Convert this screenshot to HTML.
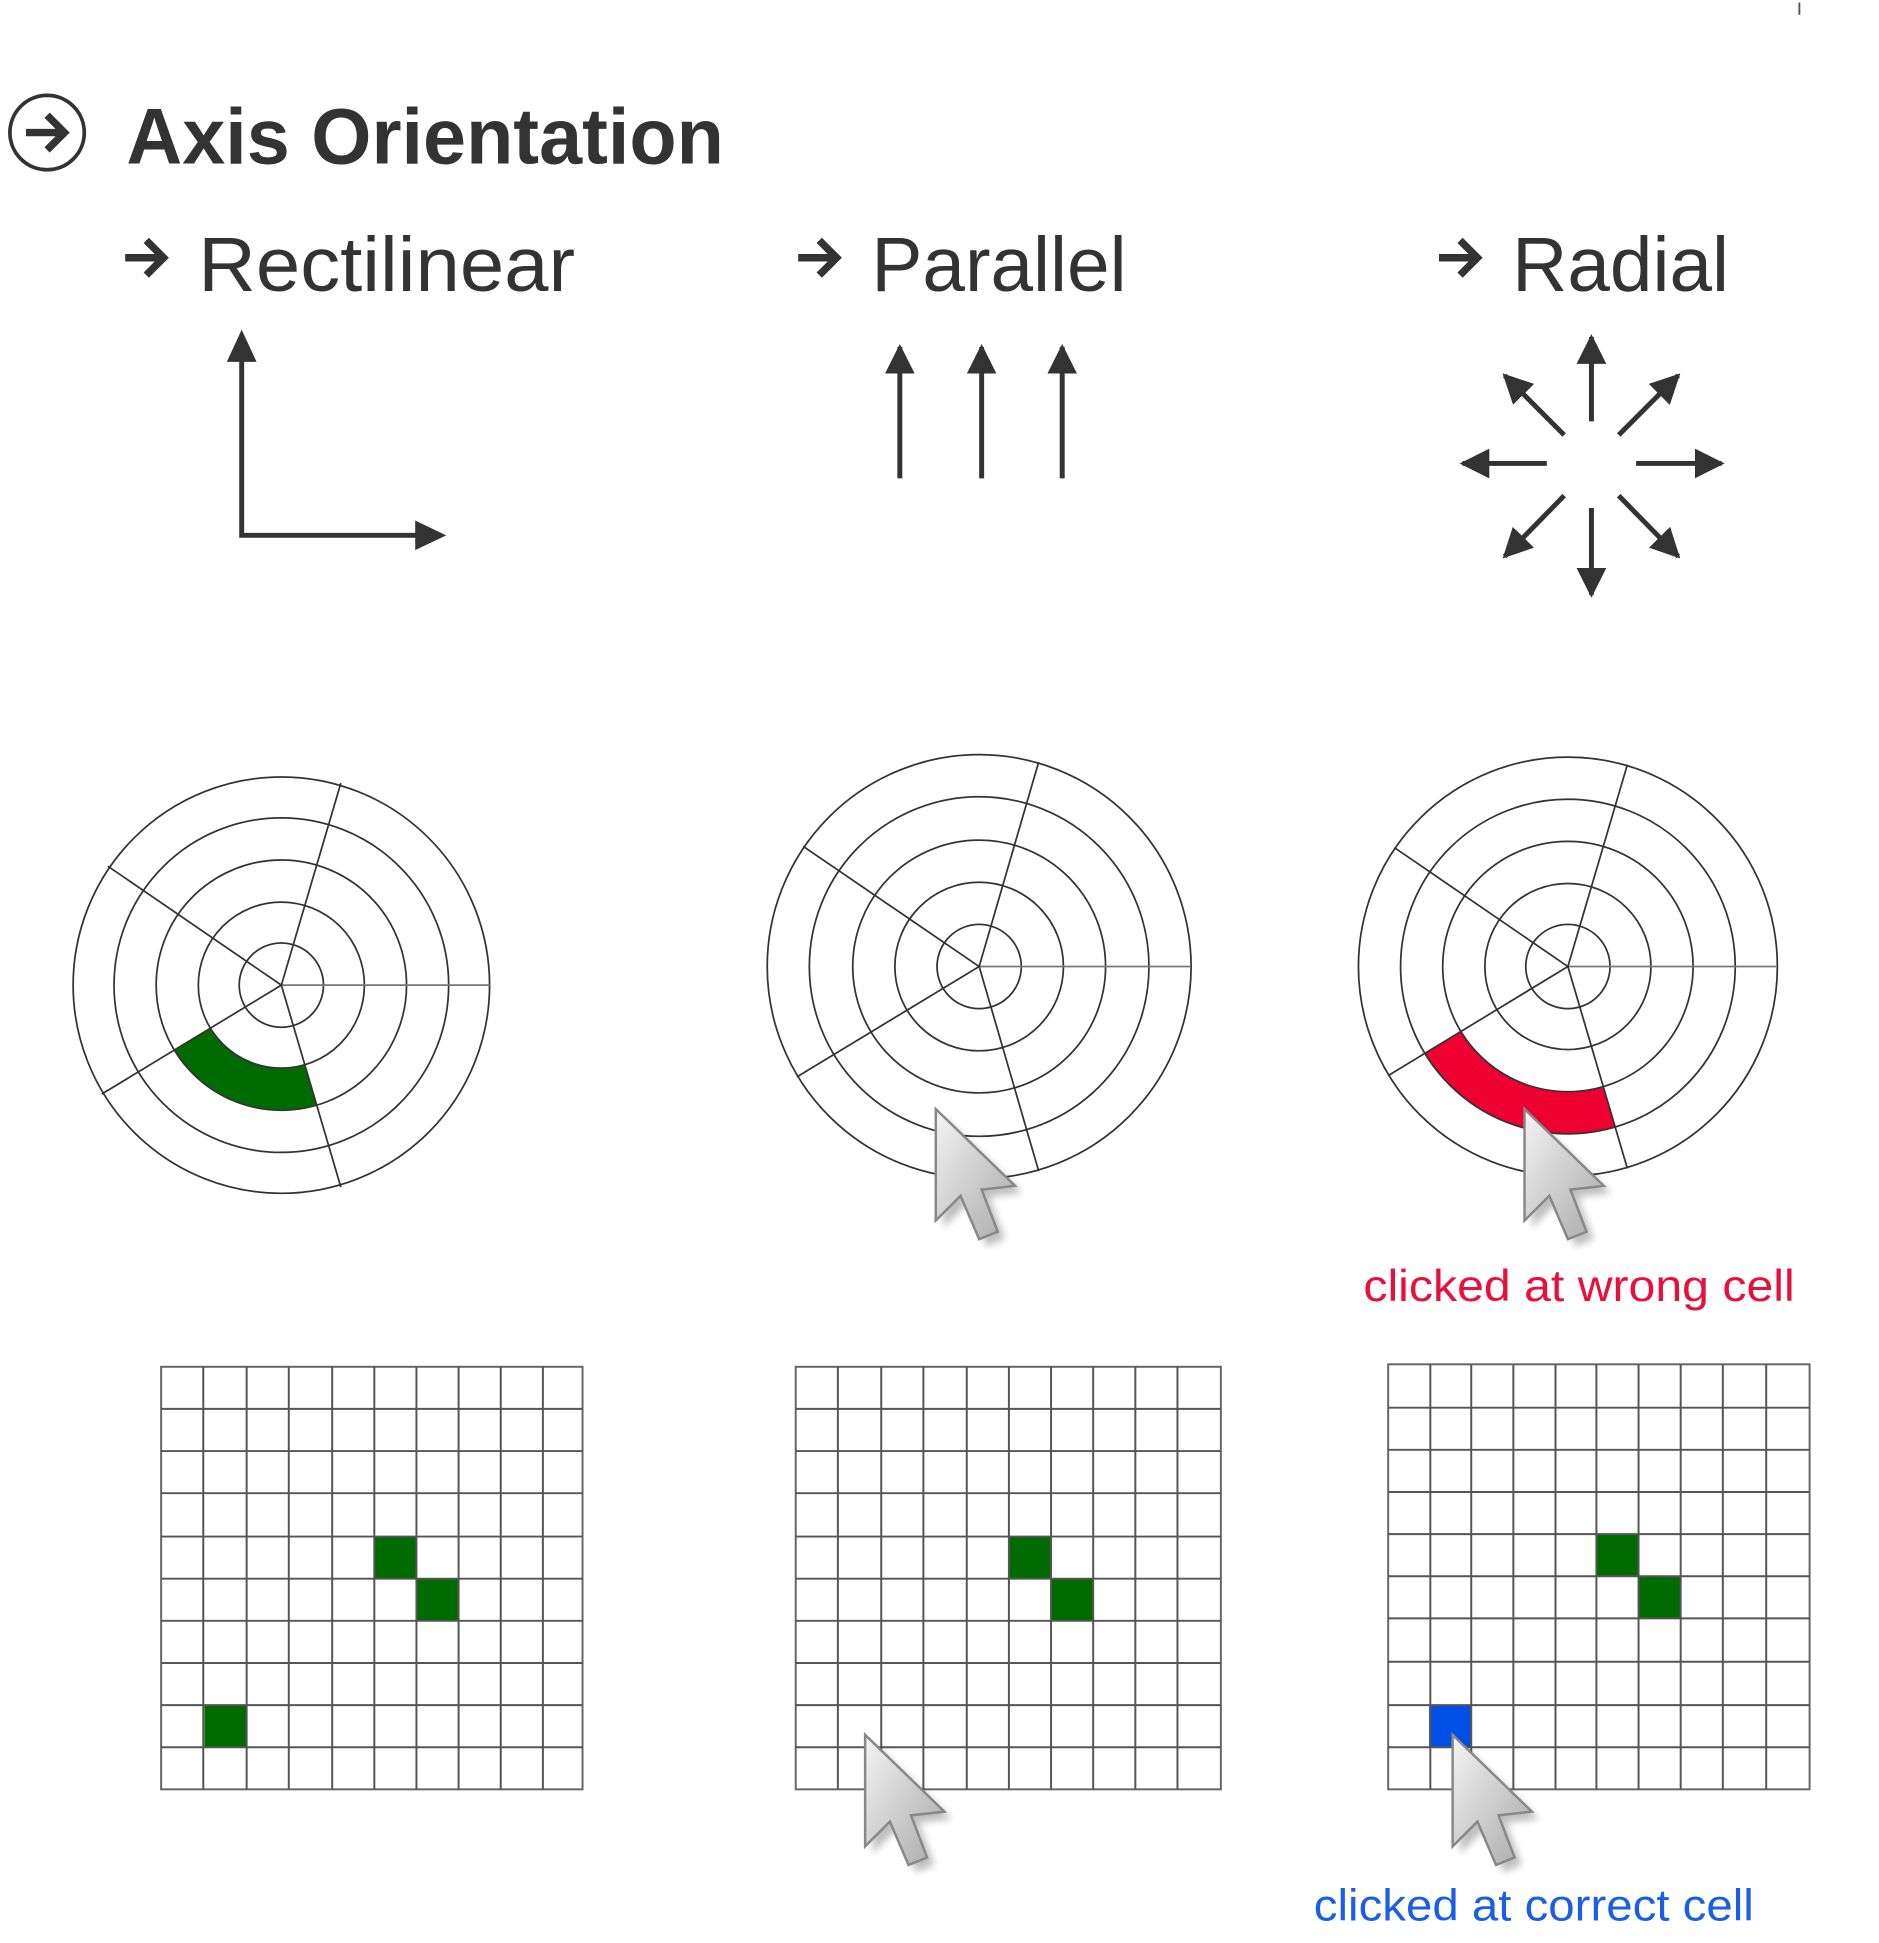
<!DOCTYPE html>
<html><head><meta charset="utf-8"><style>
html,body{margin:0;padding:0;background:#fff;}
svg{display:block;}
text{font-family:"Liberation Sans",sans-serif;}
</style></head><body>
<svg width="1879" height="1943" viewBox="0 0 1516 1568" preserveAspectRatio="none" xmlns="http://www.w3.org/2000/svg">
<defs>
<marker id="ah" viewBox="0 0 10 10" refX="9" refY="5" markerWidth="6" markerHeight="6" orient="auto"><path d="M0,0 L10,5 L0,10 z" fill="#333"/></marker>
<linearGradient id="cg" x1="0" y1="0" x2="1" y2="1"><stop offset="0" stop-color="#f4f4f4"/><stop offset="1" stop-color="#a8a8a8"/></linearGradient>
<filter id="sh"><feGaussianBlur stdDeviation="3"/></filter>
<g id="cur">
<polygon points="6,6 6,96 26,76 41,111 56,105 43,71 70,68" fill="#000" opacity="0.25" filter="url(#sh)"/>
<polygon points="0,0 0,90 20,70 35,105 50,99 37,65 64,62" fill="url(#cg)" stroke="#888" stroke-width="2"/>
</g>
<g id="sa"><path d="M0,0 H30 M17,-14 L31,0 L17,14" fill="none" stroke="#333" stroke-width="6" stroke-linejoin="miter"/></g>
</defs>
<rect x="1451" y="2" width="1.5" height="10" fill="#555"/>
<!-- title -->
<circle cx="38" cy="107" r="30" fill="none" stroke="#333" stroke-width="3"/>
<use href="#sa" x="21" y="107"/>
<text x="102" y="132" font-size="64" font-weight="bold" fill="#333" textLength="482" lengthAdjust="spacingAndGlyphs">Axis Orientation</text>
<!-- subheads -->
<use href="#sa" x="101" y="208"/>
<use href="#sa" x="644" y="208"/>
<use href="#sa" x="1161" y="208"/>
<text x="160" y="235" font-size="62" fill="#333" textLength="304" lengthAdjust="spacingAndGlyphs">Rectilinear</text>
<text x="703" y="235" font-size="62" fill="#333" textLength="206" lengthAdjust="spacingAndGlyphs">Parallel</text>
<text x="1220" y="235" font-size="62" fill="#333" textLength="175" lengthAdjust="spacingAndGlyphs">Radial</text>
<g stroke="#333" stroke-width="4" fill="none">
<polyline points="195,280 195,432 345,432"/>
</g>
<g fill="#333">
<polygon points="195,266 183,292 207,292"/>
<polygon points="360,432 335,420 335,444"/>
</g>
<g stroke="#333" stroke-width="4" marker-end="url(#ah)">
<line x1="726" y1="386" x2="726" y2="280"/>
<line x1="792" y1="386" x2="792" y2="280"/>
<line x1="857" y1="386" x2="857" y2="280"/>
<line x1="1284" y1="340" x2="1284" y2="272"/>
<line x1="1284" y1="410" x2="1284" y2="480"/>
<line x1="1248" y1="374" x2="1180" y2="374"/>
<line x1="1320" y1="374" x2="1389" y2="374"/>
<line x1="1262" y1="351" x2="1214" y2="303"/>
<line x1="1306" y1="351" x2="1354" y2="303"/>
<line x1="1262" y1="400" x2="1214" y2="449"/>
<line x1="1306" y1="400" x2="1354" y2="449"/>
</g>
<!-- polar 1 -->
<g transform="translate(227,795)" fill="none" stroke="#333" stroke-width="1.4">
<path d="M 28.7 96.8 A 101 101 0 0 1 -86.3 52.5 L -57.2 34.9 A 67 67 0 0 0 19 64.3 Z" fill="#006b00" stroke="none"/>
<circle r="168"/><circle r="135"/><circle r="101"/><circle r="67"/><circle r="34"/>
<line x1="0" y1="0" x2="168" y2="0" stroke="#777"/>
<line x1="0" y1="0" x2="48" y2="163"/>
<line x1="0" y1="0" x2="-145" y2="88"/>
<line x1="0" y1="0" x2="-140" y2="-96"/>
<line x1="0" y1="0" x2="48" y2="-163"/>
</g>
<!-- polar 2 -->
<g transform="translate(790,780)" fill="none" stroke="#333" stroke-width="1.4">
<circle r="171"/><circle r="137"/><circle r="102"/><circle r="68"/><circle r="34"/>
<line x1="0" y1="0" x2="170" y2="0" stroke="#777"/>
<line x1="0" y1="0" x2="48" y2="165"/>
<line x1="0" y1="0" x2="-147" y2="89"/>
<line x1="0" y1="0" x2="-142" y2="-97"/>
<line x1="0" y1="0" x2="48" y2="-165"/>
</g>
<!-- polar 3 -->
<g transform="translate(1265,780)" fill="none" stroke="#333" stroke-width="1.4">
<path d="M 38.5 129.4 A 135 135 0 0 1 -115.4 70 L -86.3 52.5 A 101 101 0 0 0 28.7 96.8 Z" fill="#ee0033" stroke="none"/>
<circle r="169"/><circle r="135"/><circle r="101"/><circle r="67"/><circle r="34"/>
<line x1="0" y1="0" x2="168" y2="0" stroke="#777"/>
<line x1="0" y1="0" x2="48" y2="163"/>
<line x1="0" y1="0" x2="-145" y2="88"/>
<line x1="0" y1="0" x2="-140" y2="-96"/>
<line x1="0" y1="0" x2="48" y2="-163"/>
</g>
<use href="#cur" x="755" y="895"/>
<use href="#cur" x="1230" y="895"/>
<text x="1100" y="1050" font-size="36" fill="#e8103a" textLength="348" lengthAdjust="spacingAndGlyphs">clicked at wrong cell</text>
<!-- grids -->
<g transform="translate(130,1103)">
<rect x="172" y="137" width="34" height="34" fill="#006b00"/>
<rect x="206" y="171" width="34" height="34" fill="#006b00"/>
<rect x="35" y="273" width="34" height="34" fill="#006b00"/>
<g stroke="#555" stroke-width="1.6" fill="none">
<rect x="0" y="0" width="340" height="341" stroke="#666"/>
<path d="M34,0V341M69,0V341M103,0V341M138,0V341M172,0V341M206,0V341M240,0V341M274,0V341M308,0V341"/>
<path d="M0,34H340M0,68H340M0,102H340M0,137H340M0,171H340M0,205H340M0,239H340M0,273H340M0,307H340"/>
</g>
</g>
<g transform="translate(642,1103)">
<rect x="172" y="137" width="34" height="34" fill="#006b00"/>
<rect x="206" y="171" width="34" height="34" fill="#006b00"/>
<g stroke="#555" stroke-width="1.6" fill="none">
<rect x="0" y="0" width="343" height="341" stroke="#666"/>
<path d="M34,0V341M69,0V341M103,0V341M138,0V341M172,0V341M206,0V341M240,0V341M274,0V341M308,0V341"/>
<path d="M0,34H343M0,68H343M0,102H343M0,137H343M0,171H343M0,205H343M0,239H343M0,273H343M0,307H343"/>
</g>
</g>
<g transform="translate(1120,1101)">
<rect x="168" y="137" width="34" height="34" fill="#006b00"/>
<rect x="202" y="171" width="34" height="34" fill="#006b00"/>
<rect x="33" y="275" width="34" height="34" fill="#0050e8"/>
<g stroke="#555" stroke-width="1.6" fill="none">
<rect x="0" y="0" width="340" height="343" stroke="#666"/>
<path d="M34,0V343M67,0V343M101,0V343M135,0V343M168,0V343M202,0V343M236,0V343M270,0V343M305,0V343"/>
<path d="M0,35H340M0,69H340M0,103H340M0,137H340M0,171H340M0,205H340M0,240H340M0,275H340M0,309H340"/>
</g>
</g>
<use href="#cur" x="698" y="1400"/>
<use href="#cur" x="1172" y="1400"/>
<text x="1060" y="1550" font-size="36" fill="#1a5ee8" textLength="355" lengthAdjust="spacingAndGlyphs">clicked at correct cell</text>
</svg>
</body></html>
